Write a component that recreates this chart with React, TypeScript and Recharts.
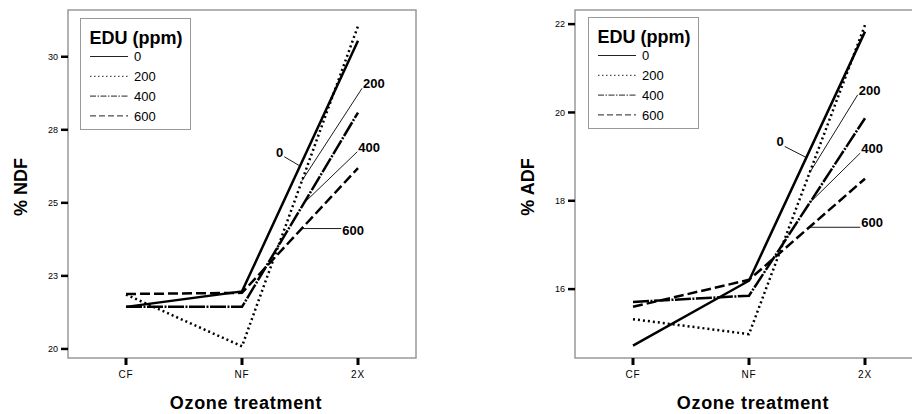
import React from "react";
import {
  LineChart,
  Line,
  XAxis,
  YAxis,
  Legend,
  ReferenceArea,
  ReferenceLine,
  ReferenceDot,
} from "recharts";

const categories = ["CF", "NF", "2X"];
const eduLevels = ["0", "200", "400", "600"];

// % NDF by EDU dose
const ndf0 = [21.44, 21.97, 30.55];
const ndf200 = [21.86, 20.09, 31.05];
const ndf400 = [21.44, 21.44, 28.09];
const ndf600 = [21.88, 21.92, 26.19];

// % ADF by EDU dose
const adf0 = [14.72, 16.19, 21.83];
const adf200 = [15.32, 14.98, 21.98];
const adf400 = [15.71, 15.85, 19.87];
const adf600 = [15.6, 16.21, 18.5];

const ndfTicks = [20, 22.5, 25, 27.5, 30];
const adfTicks = [16, 18, 20, 22];

// leader-line callouts, in data units (x = category index)
const ndfNotes = [
  { text: "0", x1: 1.364, y1: 26.58, x2: 1.5, y2: 26.26, anchor: "end", dy: 0 },
  { text: "200", x1: 2.035, y1: 28.92, x2: 1.517, y2: 25.76, anchor: "start", dy: 0 },
  { text: "400", x1: 1.994, y1: 26.75, x2: 1.523, y2: 24.95, anchor: "start", dy: 0 },
  { text: "600", x1: 1.856, y1: 24.12, x2: 1.523, y2: 24.12, anchor: "start", dy: 6 },
];
const adfNotes = [
  { text: "0", x1: 1.308, y1: 19.23, x2: 1.494, y2: 18.98, anchor: "end", dy: 0 },
  { text: "200", x1: 1.937, y1: 20.4, x2: 1.522, y2: 18.63, anchor: "start", dy: 0 },
  { text: "400", x1: 1.959, y1: 19.08, x2: 1.522, y2: 17.95, anchor: "start", dy: 0 },
  { text: "600", x1: 1.959, y1: 17.4, x2: 1.517, y2: 17.4, anchor: "start", dy: 0 },
];

const FONT = "'Liberation Sans', Arial, sans-serif";
const FRAME = "#999999";

const lineDash: Record<string, string | undefined> = {
  "0": undefined,
  "200": "2 3",
  "400": "16 1.5 2 1.5",
  "600": "10 4",
};
const legendDash: Record<string, string | undefined> = {
  "0": undefined,
  "200": "1.5 2.5",
  "400": "6 1.5 1.5 1.5",
  "600": "6 3",
};

function buildRows(s0: number[], s200: number[], s400: number[], s600: number[]) {
  return categories.map((c, i) => ({
    x: i,
    cat: c,
    e0: s0[i],
    e200: s200[i],
    e400: s400[i],
    e600: s600[i],
  }));
}

const ndfData = buildRows(ndf0, ndf200, ndf400, ndf600);
const adfData = buildRows(adf0, adf200, adf400, adf600);

function LegendBox() {
  return (
    <svg width={112} height={113} style={{ display: "block", fontFamily: FONT }}>
      <rect x={0.5} y={0.5} width={110} height={111} fill="#fff" stroke={FRAME} />
      <text x={9.5} y={26} fontSize={18} fontWeight="bold" fill="#000">
        EDU (ppm)
      </text>
      {eduLevels.map((lvl, i) => {
        const y = 38.5 + i * 19.8;
        return (
          <g key={lvl}>
            <line x1={10} x2={48} y1={y} y2={y} stroke="#222" strokeWidth={1} strokeDasharray={legendDash[lvl]} />
            <text x={54} y={y + 4.7} fontSize={13} fill="#000">
              {lvl}
            </text>
          </g>
        );
      })}
    </svg>
  );
}

type Note = { text: string; x1: number; y1: number; x2: number; y2: number; anchor: string; dy: number };

function FiberPanel({
  data,
  ticks,
  domain,
  yTitle,
  notes,
  width,
  marginLeft,
  marginRight,
  legendLeft,
  legendTop,
}: {
  data: ReturnType<typeof buildRows>;
  ticks: number[];
  domain: [number, number];
  yTitle: string;
  notes: Note[];
  width: number;
  marginLeft: number;
  marginRight: number;
  legendLeft: number;
  legendTop: number;
}) {
  return (
    <LineChart
      width={width}
      height={414}
      data={data}
      margin={{ top: 10, right: marginRight, left: marginLeft, bottom: 0 }}
    >
      <XAxis
        type="number"
        dataKey="x"
        domain={[-0.5, 2.5]}
        ticks={[0, 1, 2]}
        tickFormatter={(v) => categories[v]}
        axisLine={false}
        tickLine={{ stroke: "#000", strokeWidth: 3 }}
        tickSize={7}
        tickMargin={6}
        height={56}
        tick={{ fontSize: 10, fill: "#000", letterSpacing: 0.8 }}
        label={{
          value: "Ozone treatment",
          position: "insideBottom",
          offset: 5,
          dx: 4,
          style: { fontSize: 18, fontWeight: "bold", fill: "#000", letterSpacing: 0.7 },
        }}
      />
      <YAxis
        type="number"
        domain={domain}
        ticks={ticks}
        tickFormatter={(v) => String(Math.round(v))}
        axisLine={false}
        tickLine={{ stroke: "#000", strokeWidth: 2.5 }}
        tickSize={7}
        tickMargin={3}
        width={60}
        tick={{ fontSize: 9, fill: "#000" }}
        label={(p: any) => {
          const vb = p.viewBox || {};
          const cx = (vb.x ?? 0) + 12.7;
          const cy = 187;
          return (
            <text
              x={cx}
              y={cy}
              transform={`rotate(-90, ${cx}, ${cy})`}
              textAnchor="middle"
              dominantBaseline="central"
              fontSize={18}
              fontWeight="bold"
              fill="#000"
            >
              {yTitle}
            </text>
          );
        }}
      />
      <ReferenceArea
        x1={-0.5}
        x2={2.5}
        y1={domain[0]}
        y2={domain[1]}
        fill="none"
        stroke={FRAME}
        strokeWidth={1.5}
        ifOverflow="visible"
      />
      {eduLevels.map((lvl) => (
        <Line
          key={lvl}
          type="linear"
          dataKey={`e${lvl}`}
          name={lvl}
          stroke="#000"
          strokeWidth={2.5}
          strokeDasharray={lineDash[lvl]}
          dot={false}
          activeDot={false}
          isAnimationActive={false}
        />
      ))}
      {notes.map((n) => (
        <ReferenceLine
          key={`l${n.text}`}
          segment={[
            { x: n.x1, y: n.y1 },
            { x: n.x2, y: n.y2 },
          ]}
          stroke="#000"
          strokeWidth={0.9}
          ifOverflow="visible"
        />
      ))}
      {notes.map((n) => (
        <ReferenceDot
          key={`t${n.text}`}
          x={n.x1}
          y={n.y1}
          r={1}
          ifOverflow="visible"
          shape={(p: any) => (
            <text
              x={p.cx + (n.anchor === "start" ? 1 : -1)}
              y={p.cy + n.dy}
              textAnchor={n.anchor as any}
              fontSize={13}
              fontWeight="bold"
              fill="#000"
            >
              {n.text}
            </text>
          )}
        />
      ))}
      <Legend
        align="center"
        verticalAlign="middle"
        wrapperStyle={{ left: legendLeft, top: legendTop, width: 112, height: 113 }}
        content={() => <LegendBox />}
      />
    </LineChart>
  );
}

export default function App() {
  return (
    <div
      style={{
        position: "absolute",
        left: 0,
        top: 0,
        width: 912,
        height: 414,
        overflow: "hidden",
        background: "#fff",
        fontFamily: FONT,
        display: "flex",
      }}
    >
      <div style={{ width: 456, flex: "none" }}>
        <FiberPanel
          data={ndfData}
          ticks={ndfTicks}
          domain={[19.69, 31.6]}
          yTitle="% NDF"
          notes={ndfNotes}
          width={456}
          marginLeft={8}
          marginRight={40}
          legendLeft={80}
          legendTop={18}
        />
      </div>
      <div style={{ width: 480, flex: "none" }}>
        <FiberPanel
          data={adfData}
          ticks={adfTicks}
          domain={[14.44, 22.32]}
          yTitle="% ADF"
          notes={adfNotes}
          width={480}
          marginLeft={59}
          marginRight={13}
          legendLeft={132}
          legendTop={17}
        />
      </div>
    </div>
  );
}
